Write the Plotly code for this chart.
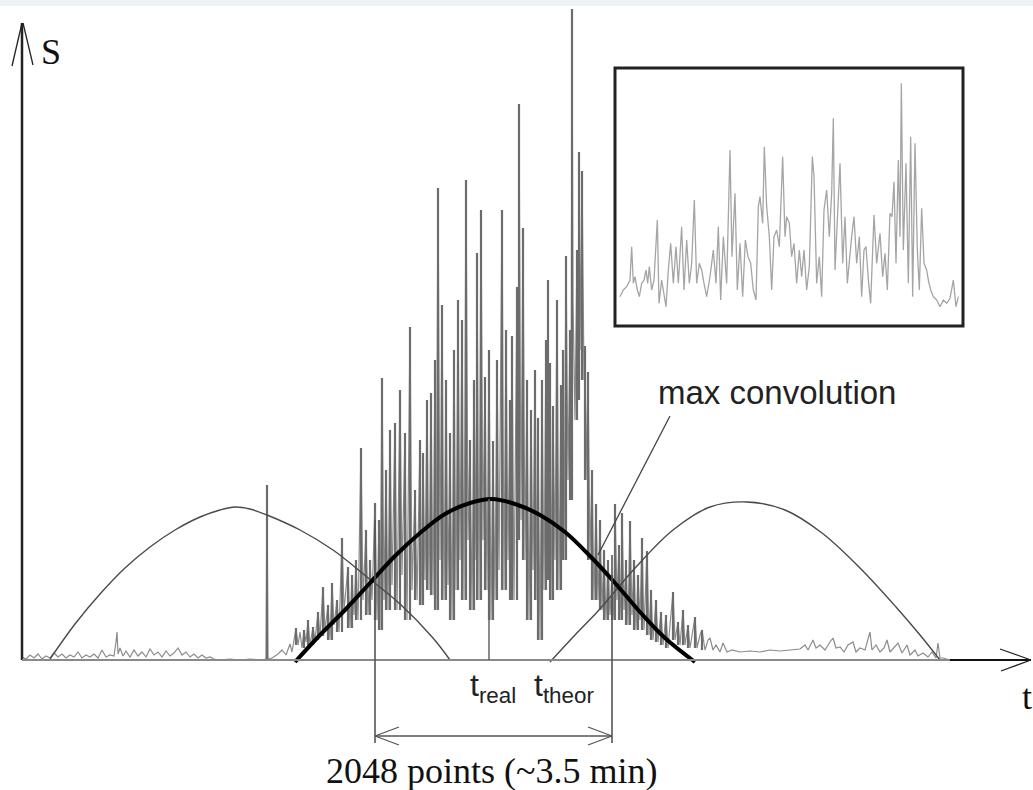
import plotly.graph_objects as go

# ---------------- data ----------------
# main signal: t (schematic time units) and S (intensity units)
sig_t = [22,26,30,34,38,42,46,50,54,58,62,66,70,74,78,82,86,90,94,98,102,106,110,114,116,117,118,120,123,126,
         130,134,138,142,146,150,154,158,162,166,170,174,178,182,186,190,194,198,202,206,210,214,220,230,240,250,
         262,266,267,268,272,278,282,286,290,292,
         294,296,298,300,302,304,306,308,310,313,315,318,320,323,325,328,330,332,334,337,339,342,344,346,348,350,
         352,354,356,358,361,363,366,368,370,372,375,377,379,380,382,384,386,388,390,392,395,397,400,402,405,407,
         410,412,415,417,420,421,423,425,427,429,431,433,435,436,438,
         440,442,444,446,448,450,452,454,456,458,460,462,464,466,468,470,472,474,476,477,479,481,483,485,487,489,
         491,493,495,497,499,502,504,506,508,510,511,512,514,517,518,519,521,523,525,527,529,531,533,535,537,538,
         540,542,544,546,547,548,549,550,552,553,555,557,559,561,562,563,564,566,568,570,571,572,573,575,577,578,
         579,580,582,584,585,586,588,590,592,594,596,598,600,602,604,606,608,610,612,614,615,617,619,621,622,624,
         626,628,630,632,634,636,638,640,642,644,647,649,651,653,656,658,661,663,666,668,670,673,675,678,680,683,
         685,688,690,693,695,697,700,702,705,708,710,713,716,720,723,727,732,740,750,760,770,780,790,800,805,808,
         813,816,820,825,830,833,836,840,844,848,853,856,860,865,870,872,876,880,884,887,890,894,898,902,907,910,
         915,918,923,928,932,936,938,940,943,950,955]
sig_s = [3,1,5,2,6,1,4,2,7,3,6,2,5,3,8,2,5,3,6,2,10,3,5,4,18,28,6,12,4,9,
         3,10,4,8,3,11,5,8,3,9,4,7,12,5,8,3,6,2,5,2,3,1,0,1,0,1,
         0,1,175,1,2,6,10,5,16,8,
         20,32,15,28,12,30,18,40,15,33,20,48,24,73,30,55,20,77,35,60,28,122,50,70,93,32,
         85,45,100,40,212,60,130,45,100,60,157,40,140,30,282,60,190,50,230,75,237,50,270,85,227,40,
         333,70,170,60,220,55,207,80,260,70,267,65,300,50,472,
         100,355,60,280,75,227,40,310,70,360,100,340,60,480,120,220,50,280,100,407,60,450,120,283,70,310,
         40,219,60,300,90,450,70,330,100,260,60,324,60,373,120,556,140,432,100,280,40,250,90,290,60,242,
         20,280,70,320,100,380,80,297,60,254,100,360,70,275,100,310,100,404,180,330,160,651,360,240,410,260,
         508,310,489,280,314,180,288,100,190,60,156,60,140,50,110,40,100,45,85,40,156,60,115,40,147,50,
         100,35,139,45,100,30,85,40,122,30,109,25,70,20,60,18,48,15,45,12,35,68,20,38,15,50,
         15,35,12,30,43,12,25,30,10,20,22,10,15,8,17,8,10,8,9,8,10,9,10,11,15,10,
         20,12,15,10,18,22,12,13,8,15,18,8,12,10,28,10,15,8,12,20,8,12,17,7,15,5,
         10,4,7,3,8,2,17,2,2,0,0]

# window (hump) curves
left_hump_t = [50, 75, 100, 125, 150, 175, 200, 220, 235, 250, 267, 300, 333, 367, 400, 433, 450]
left_hump_s = [1, 36, 66, 92, 113, 130, 143, 150, 153, 151, 145, 130, 110, 83, 56, 22, 0]
conv_hump_t = [295, 320, 345, 370, 395, 420, 445, 470, 492, 515, 540, 565, 590, 615, 640, 665, 695]
conv_hump_s = [-2, 25, 50, 77, 104, 127, 146, 157, 161, 156, 145, 128, 104, 77, 48, 22, -2]
right_hump_t = [550, 575, 599, 636, 673, 710, 747, 785, 822, 859, 896, 920, 940]
right_hump_s = [-2, 25, 50, 93, 130, 153, 158, 150, 127, 93, 53, 25, 0]

# inset (zoomed signal), arbitrary units
inset_t = [60,70,80,90,95,100,105,112,118,125,132,138,143,148,155,162,172,177,185,192,198,205,212,220,228,235,
           245,252,260,268,275,283,290,298,305,312,320,330,340,348,355,362,370,380,390,396,405,412,420,428,436,
           444,452,460,468,475,480,488,493,500,508,515,522,530,538,548,555,560,568,575,582,590,598,605,612,620,
           628,637,642,650,658,665,672,680,688,695,700,705,712,720,728,735,742,750,755,762,770,778,785,792,798,
           806,812,822,830,840,848,855,862,870,876,882,888,895,900,904,910,918,925,932,938,945,952,958,965,972,
           980,985,992,1000,1010,1020,1030,1040,1050,1060,1068,1075]
inset_s = [82,102,112,132,232,122,142,102,82,122,132,162,122,172,102,132,312,62,132,82,52,162,242,122,232,122,
           292,102,252,122,182,372,122,182,162,122,82,142,222,122,292,72,262,122,522,202,392,102,242,82,252,
           202,182,102,72,352,382,302,532,352,262,102,262,282,232,502,262,322,302,202,242,122,222,142,222,102,
           172,502,442,122,202,82,342,402,262,392,617,162,302,482,182,322,122,222,262,322,182,262,82,222,232,
           122,62,327,182,272,142,212,102,332,322,427,182,492,262,722,222,482,122,562,82,542,222,102,347,182,
           162,132,102,82,72,52,72,62,77,132,52,82]

# ---------------- figure ----------------
W, H = 1033, 790
fig = go.Figure()

# continuous signal trace (thin)
fig.add_trace(go.Scatter(x=sig_t, y=sig_s, mode="lines",
                         line=dict(color="rgb(140,140,140)", width=1.2), hoverinfo="skip"))
# vertical strokes of each peak (from the lower neighbouring trough to the peak)
vx, vy = [], []
for i in range(1, len(sig_t) - 1):
    if sig_s[i] > sig_s[i - 1] and sig_s[i] > sig_s[i + 1] and sig_s[i] >= 30:
        vx += [sig_t[i], sig_t[i], None]
        vy += [min(sig_s[i - 1], sig_s[i + 1]), sig_s[i], None]
fig.add_trace(go.Scatter(x=vx, y=vy, mode="lines", connectgaps=False,
                         line=dict(color="rgb(108,108,108)", width=2.2), hoverinfo="skip"))

fig.add_trace(go.Scatter(x=left_hump_t, y=left_hump_s, mode="lines", line_shape="spline",
                         line=dict(color="#4a4a4a", width=1.4), hoverinfo="skip"))
fig.add_trace(go.Scatter(x=right_hump_t, y=right_hump_s, mode="lines", line_shape="spline",
                         line=dict(color="#4a4a4a", width=1.4), hoverinfo="skip"))
fig.add_trace(go.Scatter(x=conv_hump_t, y=conv_hump_s, mode="lines", line_shape="spline",
                         line=dict(color="black", width=4), hoverinfo="skip"))
fig.add_trace(go.Scatter(x=inset_t, y=inset_s, mode="lines", xaxis="x2", yaxis="y2",
                         line=dict(color="rgb(165,165,165)", width=1.3), hoverinfo="skip"))

def seg(x0, y0, x1, y1, color="black", width=1.5):
    fig.add_shape(type="line", xref="x", yref="y", x0=x0, y0=y0, x1=x1, y1=y1,
                  line=dict(color=color, width=width))

# top screenshot band
fig.add_shape(type="rect", xref="paper", yref="paper", x0=0, x1=1, y0=1 - 6 / H, y1=1,
              fillcolor="#eef1f5", line=dict(width=0), layer="below")

# axes
seg(22, 0, 22, 637, "#222", 2.5)
seg(22, 637, 12, 594, "#222", 1.3)
seg(23, 637, 33, 595, "#222", 1.3)
seg(22, 0, 950, 0, "#8a8a8a", 2)
seg(950, 0, 1031, 0, "#111", 1.8)
seg(1031, 0, 1000, 11, "#222", 1.3)
seg(1031, 0, 1001, -11, "#222", 1.3)

# window markers and double arrow
seg(375, 140, 375, -83, "#555", 1.6)
seg(612, 105, 612, -83, "#555", 1.6)
seg(489, 161, 489, 0, "#666", 1.5)
seg(375, -76, 612, -76, "#555", 1.6)
seg(375, -76, 399, -67, "#555", 1.3)
seg(375, -76, 399, -85, "#555", 1.3)
seg(612, -76, 588, -67, "#555", 1.3)
seg(612, -76, 588, -85, "#555", 1.3)

# leader line for "max convolution"
seg(670, 244, 598, 105, "#444", 1.3)

# inset frame
fig.add_shape(type="rect", xref="x", yref="y", x0=615, x1=963, y0=334, y1=592,
              line=dict(color="#222", width=3))

SERIF = "Liberation Serif, Times New Roman, serif"
SANS = "Liberation Sans, Arial, sans-serif"
ann = [
    dict(x=51, y=608, text="S", font=dict(family=SERIF, size=36, color="#111")),
    dict(x=1027, y=-37, text="t", font=dict(family=SERIF, size=36, color="#111")),
    dict(x=777, y=268, text="max convolution", font=dict(family=SANS, size=33, color="#222")),
    dict(x=491, y=-111, text="2048 points (~3.5 min)", font=dict(family=SERIF, size=36, color="#111")),
    dict(x=468, y=-27, text="t<sub>real</sub>", xanchor="left", font=dict(family=SANS, size=32, color="#222")),
    dict(x=532, y=-27, text="t<sub>theor</sub>", xanchor="left", font=dict(family=SANS, size=32, color="#222")),
]
for a in ann:
    a.setdefault("xanchor", "center")
    fig.add_annotation(xref="x", yref="y", showarrow=False, yanchor="middle", **a)

fig.update_layout(
    width=W, height=H, margin=dict(l=0, r=0, t=0, b=0),
    paper_bgcolor="white", plot_bgcolor="white", showlegend=False,
    xaxis=dict(range=[0, W], visible=False, domain=[0, 1]),
    yaxis=dict(range=[-130, 660], visible=False, domain=[0, 1]),
    xaxis2=dict(range=[51, 1083], visible=False, domain=[617 / W, 961 / W], anchor="y2"),
    yaxis2=dict(range=[0, 762], visible=False, domain=[1 - 324 / H, 1 - 70 / H], anchor="x2"),
)

fig.write_html("out.html")
